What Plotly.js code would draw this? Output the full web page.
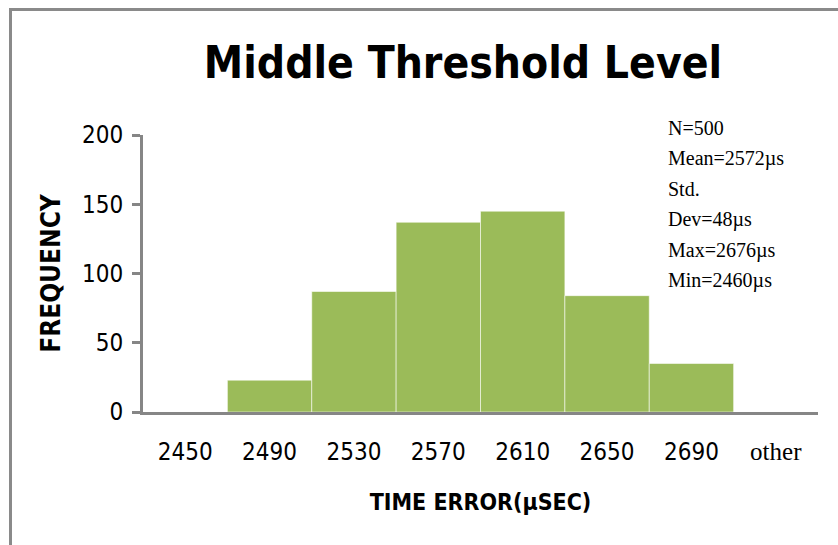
<!DOCTYPE html>
<html>
<head>
<meta charset="utf-8">
<script src="https://cdn.plot.ly/plotly-3.0.1.min.js"></script>
<style>
  html, body { margin: 0; padding: 0; background: #fff; }
  #wrap { position: relative; width: 838px; height: 545px; }
  #chart { position: absolute; left: 0; top: 0; width: 838px; height: 545px; }
  #frame { position: absolute; left: 9px; top: 8px; right: 0; bottom: 0;
           border-top: 3px solid #8a8a8a; border-left: 3px solid #8a8a8a;
           pointer-events: none; }
</style>
</head>
<body>
<div id="wrap">
  <div id="chart"></div>
  <div id="frame"></div>
</div>
<script>
// ---- data ----
const categories = ["2450", "2490", "2530", "2570", "2610", "2650", "2690", "other"];
const frequencies = [0, 23, 87, 137, 145, 84, 35, 0];
const yTickValues = [0, 50, 100, 150, 200];
const statsLines = ["N=500", "Mean=2572\u00b5s", "Std.", "Dev=48\u00b5s", "Max=2676\u00b5s", "Min=2460\u00b5s"];
const chartTitle = "Middle Threshold Level";
const xTitle = "TIME ERROR(\u00b5SEC)";
const yTitle = "FREQUENCY";

// ---- layout geometry ----
const W = 838, H = 545;
const M = { l: 143, r: 20, t: 135, b: 133 };
const plotW = W - M.l - M.r, plotH = H - M.t - M.b;
const pxX = px => (px - M.l) / plotW;
const pxY = py => (H - M.b - py) / plotH;

const sans = "'DejaVu Sans Condensed', 'Open Sans', sans-serif";
const serif = "'Liberation Serif', 'Times New Roman', serif";
const axisColor = "#868686";

const tickText = categories.map(c => c === "other"
  ? '<span style="font-family:' + "Liberation Serif" + ';font-size:25px">' + c + '</span>'
  : c);

const annotations = statsLines.map((line, i) => ({
  text: line,
  xref: "paper", yref: "paper",
  x: pxX(666), y: pxY(128 + i * 30.5),
  xanchor: "left", yanchor: "middle",
  showarrow: false,
  font: { family: serif, size: 20, color: "#000" }
}));

const trace = {
  type: "bar",
  x: categories,
  y: frequencies,
  marker: { color: "#9BBB59", line: { color: "rgba(255,255,255,0.55)", width: 1 } },
  hoverinfo: "x+y"
};

const layout = {
  width: W, height: H,
  margin: M,
  paper_bgcolor: "#fff", plot_bgcolor: "#fff",
  showlegend: false,
  bargap: 0,
  title: {
    text: "<b>" + chartTitle + "</b>",
    font: { family: sans, size: 44, color: "#000" },
    xref: "container", yref: "container",
    x: 463 / W, xanchor: "center",
    y: 1 - 63 / H, yanchor: "middle"
  },
  xaxis: {
    type: "category",
    tickvals: categories,
    ticktext: tickText,
    showline: true, linecolor: axisColor, linewidth: 3,
    ticks: "", showgrid: false, zeroline: false,
    tickfont: { family: sans, size: 24, color: "#000" },
    ticklabelstandoff: 16,
    title: { text: "<b>" + xTitle + "</b>", font: { family: sans, size: 23, color: "#000" }, standoff: 30 }
  },
  yaxis: {
    range: [0, 200],
    tickvals: yTickValues,
    showline: true, linecolor: axisColor, linewidth: 3,
    ticks: "outside", ticklen: 8, tickwidth: 3, tickcolor: axisColor,
    showgrid: false, zeroline: false,
    tickfont: { family: sans, size: 24, color: "#000" },
    ticklabelstandoff: 4,
    title: { text: "<b>" + yTitle + "</b>", font: { family: sans, size: 26, color: "#000" }, standoff: 14 }
  },
  annotations: annotations
};

Plotly.newPlot("chart", [trace], layout, { displayModeBar: false, staticPlot: true });
</script>
</body>
</html>
